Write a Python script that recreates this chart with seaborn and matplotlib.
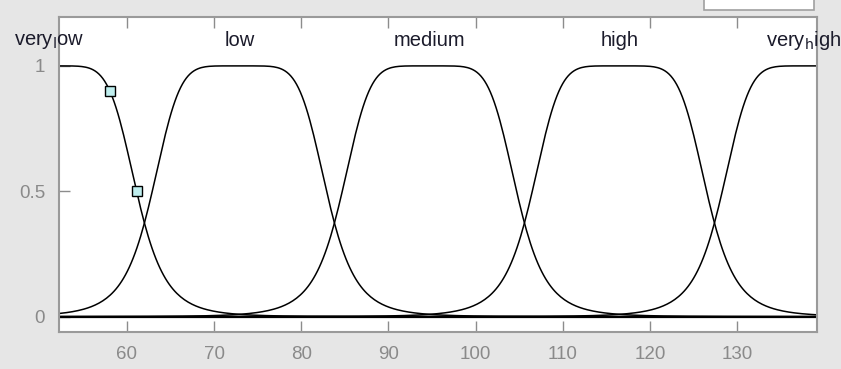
import numpy as np
import pandas as pd
import matplotlib
matplotlib.use("Agg")
import matplotlib.pyplot as plt
import seaborn as sns
from matplotlib.patches import Rectangle

# ---- data (generalized bell membership functions) ----
mf_names = ["very$_{\\mathrm{l}}$ow", "low", "medium", "high", "very$_{\\mathrm{h}}$igh"]
mf_centers = [51.1, 72.9, 94.7, 116.5, 138.3]
mf_width = [10.0, 10.0, 10.0, 10.0, 10.0]
mf_slope = [3.0, 3.0, 3.0, 3.0, 3.0]
x_range = [52.2, 139.2]
x_ticks = [60, 70, 80, 90, 100, 110, 120, 130]
y_ticks = [0, 0.5, 1]
y_ticklabels = ["0", "0.5", "1"]
marker_x = [58.0, 61.1]
marker_y = [0.9, 0.5]

xs = np.linspace(x_range[0], x_range[1], 400)
frames = []
for name, c, a, b in zip(mf_names, mf_centers, mf_width, mf_slope):
    mu = 1.0 / (1.0 + np.abs((xs - c) / a) ** (2 * b))
    frames.append(pd.DataFrame({"x": xs, "mu": mu, "mf": name}))
df = pd.concat(frames, ignore_index=True)

sns.set_theme(style="white")
plt.rcParams["font.family"] = ["Liberation Sans", "DejaVu Sans"]

fig = plt.figure(figsize=(8.41, 3.69), dpi=100)
fig.patch.set_facecolor("#e6e6e6")
ax = fig.add_axes([59 / 841, 1 - 331.7 / 369, (817.3 - 59) / 841, (331.7 - 17) / 369])
ax.set_facecolor("white")

sns.lineplot(data=df, x="x", y="mu", units="mf", estimator=None, color="black",
             linewidth=1.1, ax=ax, legend=False, sort=False)
ax.axhline(0, color="black", linewidth=1.6, zorder=1)
ax.plot(marker_x, marker_y, linestyle="none", marker="s", markersize=6.5,
        markerfacecolor="#bfeeee", markeredgecolor="black", markeredgewidth=1.0, zorder=5)

for i, (name, c) in enumerate(zip(mf_names, mf_centers)):
    if i == len(mf_names) - 1:
        # keep the last label inside the figure: anchor its left edge
        ax.text(133.3, 1.10, name, ha="left", va="center", fontsize=14.5,
                color="#1b1b2b", clip_on=False)
    else:
        ax.text(c, 1.10, name, ha="center", va="center", fontsize=14.5,
                color="#1b1b2b", clip_on=False)

ax.set_xlim(x_range)
ax.set_ylim(-0.06, 1.195)
ax.set_xticks(x_ticks)
ax.set_xticklabels([str(t) for t in x_ticks])
ax.set_yticks(y_ticks)
ax.set_yticklabels(y_ticklabels)
ax.set_xlabel("")
ax.set_ylabel("")
ax.tick_params(axis="x", direction="in", length=8, width=1, color="#8c8c8c",
               labelsize=13.5, labelcolor="#8a8a8a", pad=10, top=True, bottom=True)
ax.tick_params(axis="y", direction="in", length=8, width=1, color="#8c8c8c",
               labelsize=13.5, labelcolor="#8a8a8a", pad=10, left=True, right=False)
for s in ax.spines.values():
    s.set_color("#9a9a9a")
    s.set_linewidth(1.5)
    s.set_visible(True)

# UI box at the top right
fig.patches.append(Rectangle((704 / 841, 1 - 10 / 369), (813.7 - 704) / 841, 0.05,
                             transform=fig.transFigure, facecolor="white",
                             edgecolor="#a0a0a0", linewidth=1.2))

fig.savefig("out.png", dpi=100, facecolor=fig.get_facecolor())
